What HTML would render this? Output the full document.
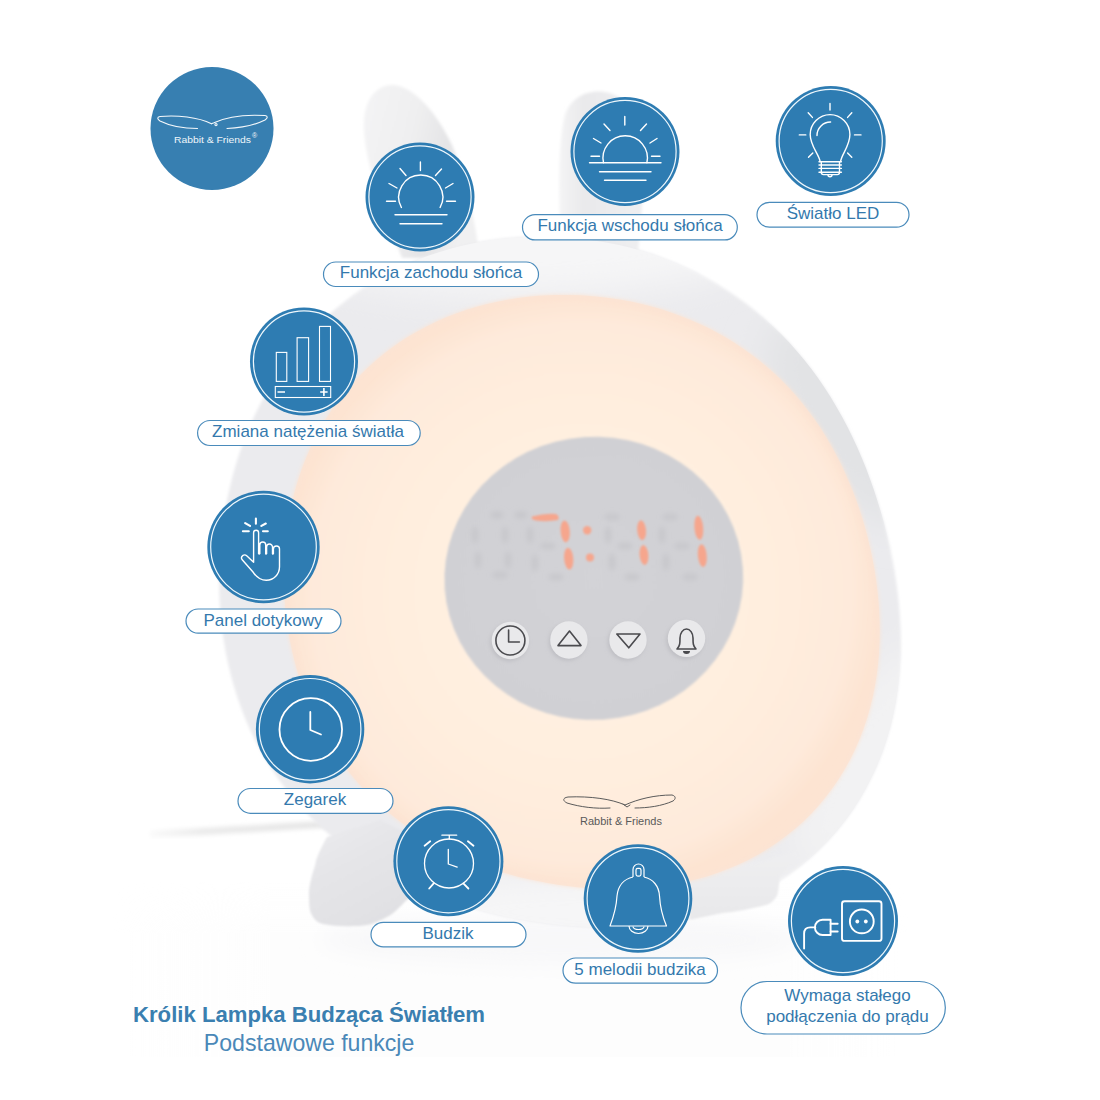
<!DOCTYPE html>
<html><head><meta charset="utf-8">
<style>
html,body{margin:0;padding:0;background:#fff;}
body{width:1100px;height:1100px;overflow:hidden;position:relative;font-family:"Liberation Sans",sans-serif;}
svg{position:absolute;left:0;top:0;}
</style></head>
<body>
<svg width="1100" height="1100" viewBox="0 0 1100 1100">
<defs>
  <filter id="ghostblur" filterUnits="userSpaceOnUse" x="400" y="450" width="380" height="200"><feGaussianBlur stdDeviation="2.5"/></filter>
  <filter id="blur15" x="-5%" y="-5%" width="110%" height="110%"><feGaussianBlur stdDeviation="1.6"/></filter>
  <filter id="blur20" x="-50%" y="-50%" width="200%" height="200%"><feGaussianBlur stdDeviation="18"/></filter>
  <filter id="blur2p" x="-5%" y="-5%" width="110%" height="110%"><feGaussianBlur stdDeviation="2.2"/></filter>
  <filter id="blur1" x="-10%" y="-10%" width="120%" height="120%"><feGaussianBlur stdDeviation="1"/></filter>
  <filter id="blur2" x="-20%" y="-50%" width="140%" height="200%"><feGaussianBlur stdDeviation="2"/></filter>
  <filter id="blur3" x="-10%" y="-10%" width="120%" height="120%"><feGaussianBlur stdDeviation="3"/></filter>
  <filter id="blur4" x="-20%" y="-20%" width="140%" height="140%"><feGaussianBlur stdDeviation="4"/></filter>
  <filter id="blur10" x="-30%" y="-30%" width="160%" height="160%"><feGaussianBlur stdDeviation="10"/></filter>
  <radialGradient id="peach" cx="0.5" cy="0.5" r="0.5">
    <stop offset="0" stop-color="#fff2e4"/>
    <stop offset="0.55" stop-color="#ffefdf"/>
    <stop offset="0.9" stop-color="#feeadb"/>
    <stop offset="1" stop-color="#fde4d2"/>
  </radialGradient>
  <linearGradient id="body" x1="0.1" y1="0.9" x2="0.9" y2="0.1">
    <stop offset="0" stop-color="#f1f1f3"/>
    <stop offset="0.45" stop-color="#ededef"/>
    <stop offset="1" stop-color="#e5e6e8"/>
  </linearGradient>
  <linearGradient id="earL" x1="0" y1="0" x2="1" y2="0.35">
    <stop offset="0" stop-color="#f4f4f5"/>
    <stop offset="0.45" stop-color="#efeff0"/>
    <stop offset="0.75" stop-color="#e4e4e6"/>
    <stop offset="1" stop-color="#f0f0f1"/>
  </linearGradient>
  <linearGradient id="earR" x1="0" y1="0" x2="1" y2="0">
    <stop offset="0" stop-color="#f4f4f5"/>
    <stop offset="0.3" stop-color="#e9e9eb"/>
    <stop offset="1" stop-color="#efeff1"/>
  </linearGradient>
  <linearGradient id="footL" x1="0" y1="0" x2="0.6" y2="1">
    <stop offset="0" stop-color="#ececef"/>
    <stop offset="0.45" stop-color="#e5e5e8"/>
    <stop offset="1" stop-color="#e0e0e3"/>
  </linearGradient>
  <linearGradient id="footR" x1="0" y1="0" x2="0" y2="1">
    <stop offset="0" stop-color="#efeff1"/>
    <stop offset="1" stop-color="#e8e8ea"/>
  </linearGradient>
  <linearGradient id="cableg" x1="0" y1="0" x2="1" y2="0">
    <stop offset="0" stop-color="#fafafa"/>
    <stop offset="0.3" stop-color="#ebebeb"/>
    <stop offset="1" stop-color="#e6e6e6"/>
  </linearGradient>
  <radialGradient id="gray" cx="0.5" cy="0.5" r="0.5">
    <stop offset="0" stop-color="#d3d3d7"/>
    <stop offset="1" stop-color="#d0d0d4"/>
  </radialGradient>
  <linearGradient id="floorg" x1="0" y1="0" x2="1" y2="0">
    <stop offset="0" stop-color="#fafafa" stop-opacity="0"/>
    <stop offset="0.2" stop-color="#fbfbfb"/>
    <stop offset="0.8" stop-color="#fbfbfb"/>
    <stop offset="1" stop-color="#fafafa" stop-opacity="0"/>
  </linearGradient>
  <linearGradient id="floorv" x1="0" y1="0" x2="0" y2="1">
    <stop offset="0" stop-color="#fafafa" stop-opacity="0"/>
    <stop offset="0.3" stop-color="#fafafa"/>
    <stop offset="1" stop-color="#fbfbfb"/>
  </linearGradient>
  <mask id="floormask" maskUnits="userSpaceOnUse" x="0" y="0" width="1100" height="1100">
    <rect x="110" y="880" width="800" height="177" fill="url(#floorm)"/>
  </mask>
  <linearGradient id="floorm" x1="0" y1="0" x2="1" y2="0">
    <stop offset="0" stop-color="#fff" stop-opacity="0"/>
    <stop offset="0.2" stop-color="#fff"/>
    <stop offset="0.85" stop-color="#fff"/>
    <stop offset="1" stop-color="#fff" stop-opacity="0"/>
  </linearGradient>
</defs>

<!-- ===== LAMP ===== -->
<g id="lamp">
  <!-- reflection -->
  <rect x="110" y="880" width="800" height="177" fill="url(#floorv)" mask="url(#floormask)" opacity="0.3"/>
  <ellipse cx="560" cy="940" rx="240" ry="25" fill="#f8f8f9" filter="url(#blur10)"/>
  <!-- cable -->
  <path d="M150 834 C 220 831, 280 827, 330 824" stroke="url(#cableg)" stroke-width="7" fill="none" filter="url(#blur2)"/>
  <!-- ears -->
  <path d="M402 258 C 386 215, 362 160, 364 120 C 366 95, 380 84, 394 85 C 415 87, 438 115, 452 145 C 466 178, 474 215, 480 258 Z" fill="url(#earL)" filter="url(#blur15)"/>
  <path d="M562 255 C 558 200, 558 140, 565 115 C 572 95, 590 90, 605 92 C 625 95, 638 115, 642 140 C 646 170, 642 210, 638 255 Z" fill="url(#earR)" filter="url(#blur15)"/>
  <!-- body -->
  <clipPath id="bodyclip"><path d="M219.1 580.0 C219.1 572.1 219.4 564.1 219.8 556.2 C220.3 548.3 221.0 540.4 221.9 532.5 C222.8 524.6 224.0 516.7 225.4 508.9 C226.8 501.0 228.4 493.2 230.3 485.4 C232.1 477.7 234.2 469.9 236.6 462.3 C238.9 454.6 241.6 447.0 244.4 439.5 C247.3 432.0 250.4 424.5 253.8 417.2 C257.2 409.9 260.9 402.6 264.8 395.5 C268.7 388.5 272.9 381.5 277.4 374.7 C281.9 367.9 286.6 361.2 291.6 354.8 C296.6 348.4 301.9 342.1 307.4 336.1 C312.9 330.0 318.7 324.2 324.7 318.6 C330.7 313.1 336.9 307.7 343.3 302.7 C349.8 297.6 356.4 292.8 363.2 288.3 C370.1 283.8 377.1 279.6 384.3 275.6 C391.4 271.7 398.8 268.0 406.2 264.7 C413.7 261.4 421.3 258.3 428.9 255.6 C436.6 252.8 444.4 250.4 452.2 248.2 C460.0 246.1 468.0 244.3 475.9 242.7 C483.8 241.2 491.9 239.9 499.9 238.9 C507.9 238.0 515.9 237.3 523.9 236.9 C532.0 236.5 540.0 236.4 548.0 236.5 C556.0 236.7 564.0 237.1 572.0 237.8 C579.9 238.5 587.8 239.4 595.7 240.7 C603.5 241.9 611.3 243.4 619.0 245.1 C626.8 246.9 634.4 248.9 642.0 251.1 C649.6 253.4 657.0 255.9 664.4 258.7 C671.8 261.5 679.0 264.5 686.1 267.8 C693.3 271.1 700.3 274.6 707.1 278.4 C714.0 282.1 720.7 286.1 727.2 290.4 C733.8 294.6 740.1 299.1 746.3 303.7 C752.5 308.4 758.6 313.3 764.4 318.4 C770.2 323.5 775.8 328.8 781.3 334.3 C786.7 339.7 791.9 345.4 796.9 351.2 C801.9 357.0 806.8 363.0 811.4 369.1 C816.0 375.2 820.4 381.4 824.6 387.8 C828.8 394.1 832.8 400.6 836.6 407.2 C840.4 413.7 844.0 420.4 847.5 427.1 C850.9 433.9 854.2 440.7 857.3 447.6 C860.4 454.6 863.3 461.5 866.1 468.6 C868.8 475.7 871.4 482.8 873.9 490.0 C876.3 497.2 878.6 504.5 880.8 511.8 C883.0 519.2 885.0 526.6 886.8 534.1 C888.7 541.6 890.4 549.1 891.9 556.8 C893.4 564.4 894.8 572.2 895.9 580.0 C897.1 587.8 898.1 595.7 898.9 603.7 C899.6 611.7 900.2 619.7 900.5 627.9 C900.8 636.0 900.9 644.2 900.7 652.4 C900.4 660.6 899.9 668.9 899.1 677.2 C898.3 685.5 897.2 693.9 895.7 702.2 C894.2 710.5 892.4 718.8 890.3 727.0 C888.1 735.3 885.5 743.5 882.6 751.5 C879.6 759.6 876.3 767.6 872.6 775.3 C868.9 783.1 864.8 790.8 860.3 798.2 C855.8 805.6 851.0 812.8 845.8 819.8 C840.5 826.7 834.9 833.4 829.0 839.8 C823.1 846.1 816.8 852.2 810.3 858.0 C803.7 863.7 796.9 869.1 789.8 874.1 C782.7 879.1 775.3 883.8 767.8 888.1 C760.3 892.4 752.5 896.3 744.7 899.9 C736.8 903.4 728.7 906.6 720.6 909.4 C712.5 912.2 704.3 914.6 696.0 916.7 C687.8 918.8 679.4 920.6 671.1 922.0 C662.8 923.5 654.4 924.6 646.1 925.4 C637.8 926.3 629.5 926.8 621.2 927.1 C612.9 927.4 604.7 927.5 596.5 927.3 C588.3 927.1 580.2 926.7 572.1 926.1 C564.0 925.5 556.0 924.6 548.0 923.6 C540.0 922.6 532.1 921.4 524.3 920.1 C516.4 918.7 508.6 917.1 500.9 915.4 C493.1 913.7 485.4 911.8 477.8 909.7 C470.2 907.6 462.6 905.4 455.1 902.9 C447.6 900.5 440.1 897.8 432.7 895.0 C425.4 892.1 418.1 889.1 410.9 885.8 C403.7 882.5 396.5 879.0 389.5 875.3 C382.5 871.5 375.6 867.6 368.9 863.4 C362.1 859.2 355.5 854.7 349.0 850.1 C342.5 845.4 336.2 840.5 330.1 835.3 C324.0 830.1 318.1 824.7 312.4 819.1 C306.7 813.5 301.2 807.6 296.0 801.5 C290.8 795.4 285.8 789.1 281.1 782.7 C276.3 776.2 271.9 769.5 267.7 762.7 C263.5 755.8 259.6 748.8 255.9 741.7 C252.3 734.6 248.9 727.3 245.8 719.9 C242.8 712.5 240.0 705.0 237.4 697.4 C234.9 689.8 232.7 682.1 230.7 674.4 C228.7 666.7 227.0 658.9 225.5 651.1 C224.1 643.3 222.9 635.4 221.9 627.5 C221.0 619.6 220.3 611.7 219.8 603.8 C219.4 595.9 219.1 587.9 219.1 580.0 Z"/></clipPath>
  <path id="bodyp" d="M219.1 580.0 C219.1 572.1 219.4 564.1 219.8 556.2 C220.3 548.3 221.0 540.4 221.9 532.5 C222.8 524.6 224.0 516.7 225.4 508.9 C226.8 501.0 228.4 493.2 230.3 485.4 C232.1 477.7 234.2 469.9 236.6 462.3 C238.9 454.6 241.6 447.0 244.4 439.5 C247.3 432.0 250.4 424.5 253.8 417.2 C257.2 409.9 260.9 402.6 264.8 395.5 C268.7 388.5 272.9 381.5 277.4 374.7 C281.9 367.9 286.6 361.2 291.6 354.8 C296.6 348.4 301.9 342.1 307.4 336.1 C312.9 330.0 318.7 324.2 324.7 318.6 C330.7 313.1 336.9 307.7 343.3 302.7 C349.8 297.6 356.4 292.8 363.2 288.3 C370.1 283.8 377.1 279.6 384.3 275.6 C391.4 271.7 398.8 268.0 406.2 264.7 C413.7 261.4 421.3 258.3 428.9 255.6 C436.6 252.8 444.4 250.4 452.2 248.2 C460.0 246.1 468.0 244.3 475.9 242.7 C483.8 241.2 491.9 239.9 499.9 238.9 C507.9 238.0 515.9 237.3 523.9 236.9 C532.0 236.5 540.0 236.4 548.0 236.5 C556.0 236.7 564.0 237.1 572.0 237.8 C579.9 238.5 587.8 239.4 595.7 240.7 C603.5 241.9 611.3 243.4 619.0 245.1 C626.8 246.9 634.4 248.9 642.0 251.1 C649.6 253.4 657.0 255.9 664.4 258.7 C671.8 261.5 679.0 264.5 686.1 267.8 C693.3 271.1 700.3 274.6 707.1 278.4 C714.0 282.1 720.7 286.1 727.2 290.4 C733.8 294.6 740.1 299.1 746.3 303.7 C752.5 308.4 758.6 313.3 764.4 318.4 C770.2 323.5 775.8 328.8 781.3 334.3 C786.7 339.7 791.9 345.4 796.9 351.2 C801.9 357.0 806.8 363.0 811.4 369.1 C816.0 375.2 820.4 381.4 824.6 387.8 C828.8 394.1 832.8 400.6 836.6 407.2 C840.4 413.7 844.0 420.4 847.5 427.1 C850.9 433.9 854.2 440.7 857.3 447.6 C860.4 454.6 863.3 461.5 866.1 468.6 C868.8 475.7 871.4 482.8 873.9 490.0 C876.3 497.2 878.6 504.5 880.8 511.8 C883.0 519.2 885.0 526.6 886.8 534.1 C888.7 541.6 890.4 549.1 891.9 556.8 C893.4 564.4 894.8 572.2 895.9 580.0 C897.1 587.8 898.1 595.7 898.9 603.7 C899.6 611.7 900.2 619.7 900.5 627.9 C900.8 636.0 900.9 644.2 900.7 652.4 C900.4 660.6 899.9 668.9 899.1 677.2 C898.3 685.5 897.2 693.9 895.7 702.2 C894.2 710.5 892.4 718.8 890.3 727.0 C888.1 735.3 885.5 743.5 882.6 751.5 C879.6 759.6 876.3 767.6 872.6 775.3 C868.9 783.1 864.8 790.8 860.3 798.2 C855.8 805.6 851.0 812.8 845.8 819.8 C840.5 826.7 834.9 833.4 829.0 839.8 C823.1 846.1 816.8 852.2 810.3 858.0 C803.7 863.7 796.9 869.1 789.8 874.1 C782.7 879.1 775.3 883.8 767.8 888.1 C760.3 892.4 752.5 896.3 744.7 899.9 C736.8 903.4 728.7 906.6 720.6 909.4 C712.5 912.2 704.3 914.6 696.0 916.7 C687.8 918.8 679.4 920.6 671.1 922.0 C662.8 923.5 654.4 924.6 646.1 925.4 C637.8 926.3 629.5 926.8 621.2 927.1 C612.9 927.4 604.7 927.5 596.5 927.3 C588.3 927.1 580.2 926.7 572.1 926.1 C564.0 925.5 556.0 924.6 548.0 923.6 C540.0 922.6 532.1 921.4 524.3 920.1 C516.4 918.7 508.6 917.1 500.9 915.4 C493.1 913.7 485.4 911.8 477.8 909.7 C470.2 907.6 462.6 905.4 455.1 902.9 C447.6 900.5 440.1 897.8 432.7 895.0 C425.4 892.1 418.1 889.1 410.9 885.8 C403.7 882.5 396.5 879.0 389.5 875.3 C382.5 871.5 375.6 867.6 368.9 863.4 C362.1 859.2 355.5 854.7 349.0 850.1 C342.5 845.4 336.2 840.5 330.1 835.3 C324.0 830.1 318.1 824.7 312.4 819.1 C306.7 813.5 301.2 807.6 296.0 801.5 C290.8 795.4 285.8 789.1 281.1 782.7 C276.3 776.2 271.9 769.5 267.7 762.7 C263.5 755.8 259.6 748.8 255.9 741.7 C252.3 734.6 248.9 727.3 245.8 719.9 C242.8 712.5 240.0 705.0 237.4 697.4 C234.9 689.8 232.7 682.1 230.7 674.4 C228.7 666.7 227.0 658.9 225.5 651.1 C224.1 643.3 222.9 635.4 221.9 627.5 C221.0 619.6 220.3 611.7 219.8 603.8 C219.4 595.9 219.1 587.9 219.1 580.0 Z" fill="#ebebee" filter="url(#blur15)"/>
  <g clip-path="url(#bodyclip)">
    <ellipse cx="520" cy="250" rx="230" ry="45" fill="#f6f6f7" filter="url(#blur20)"/>
    <ellipse cx="610" cy="912" rx="250" ry="40" fill="#f6f6f7" filter="url(#blur20)"/>
    <ellipse cx="850" cy="420" rx="60" ry="120" transform="rotate(-35 850 420)" fill="#e2e3e5" filter="url(#blur20)"/>
    <ellipse cx="870" cy="760" rx="50" ry="130" transform="rotate(30 870 760)" fill="#f2f2f3" filter="url(#blur20)"/>
  </g>
  <!-- feet -->
  <path d="M327 837 C 321 848, 316 858, 315.5 864 C 311 878, 308.5 888, 309 895.5 C 309 905, 309.5 911, 311.7 914.6 C 314 920, 318 923, 323 924 C 333 926, 345 926.5, 353.7 926 C 360 926, 366 925.5, 371.5 924 C 382 920, 390 916, 394.5 912 C 398 909, 402 905, 404.6 902 L 430 880 L 420 840 L 380 820 Z" fill="url(#footL)" filter="url(#blur1)"/>
  <path d="M805 850 L 779.5 876 C 779 885, 778.5 892, 777 895.5 C 774 901, 770 904, 766 905 C 750 909, 735 912, 722.7 913 L 690 919.5 L 690 880 Z" fill="url(#footR)" filter="url(#blur1)"/>
  <!-- peach glow -->
  <clipPath id="peachclip"><path d="M284.1 590.0 C283.8 583.1 283.7 576.2 283.9 569.3 C284.0 562.4 284.3 555.4 284.9 548.5 C285.5 541.6 286.2 534.7 287.2 527.8 C288.2 520.9 289.5 514.0 290.9 507.1 C292.4 500.3 294.1 493.4 296.1 486.7 C298.1 479.9 300.3 473.2 302.7 466.5 C305.2 459.9 307.9 453.4 310.9 446.9 C313.9 440.5 317.1 434.1 320.6 427.9 C324.1 421.7 327.9 415.6 331.9 409.7 C335.9 403.8 340.2 398.1 344.7 392.5 C349.2 387.0 353.9 381.6 358.9 376.5 C363.8 371.3 369.0 366.4 374.4 361.7 C379.8 357.0 385.4 352.5 391.1 348.3 C396.9 344.0 402.8 340.1 408.9 336.3 C415.0 332.6 421.2 329.2 427.6 326.0 C433.9 322.8 440.4 319.8 446.9 317.1 C453.5 314.4 460.1 312.0 466.8 309.8 C473.5 307.7 480.3 305.7 487.1 304.1 C493.9 302.4 500.8 300.9 507.6 299.7 C514.5 298.5 521.4 297.6 528.3 296.8 C535.2 296.1 542.1 295.6 549.0 295.3 C555.9 294.9 562.8 294.9 569.7 295.0 C576.6 295.1 583.4 295.4 590.3 296.0 C597.1 296.5 603.9 297.2 610.7 298.2 C617.4 299.1 624.2 300.3 630.8 301.6 C637.5 303.0 644.2 304.5 650.7 306.3 C657.3 308.1 663.8 310.0 670.3 312.2 C676.7 314.4 683.1 316.8 689.3 319.4 C695.6 322.0 701.8 324.8 707.9 327.8 C714.0 330.8 719.9 334.1 725.8 337.5 C731.6 340.9 737.4 344.6 742.9 348.4 C748.5 352.3 754.0 356.3 759.3 360.5 C764.6 364.8 769.7 369.2 774.7 373.8 C779.6 378.4 784.4 383.2 789.0 388.1 C793.7 393.1 798.1 398.2 802.4 403.4 C806.6 408.6 810.7 414.0 814.6 419.6 C818.5 425.1 822.2 430.7 825.7 436.5 C829.2 442.2 832.6 448.1 835.7 454.0 C838.9 460.0 841.9 466.0 844.7 472.2 C847.5 478.3 850.1 484.5 852.6 490.8 C855.1 497.1 857.4 503.4 859.5 509.8 C861.7 516.3 863.7 522.8 865.5 529.3 C867.3 535.9 868.9 542.5 870.4 549.2 C871.9 555.9 873.3 562.6 874.4 569.4 C875.6 576.2 876.5 583.1 877.3 590.0 C878.1 596.9 878.7 603.9 879.1 610.9 C879.5 617.9 879.7 625.0 879.7 632.1 C879.7 639.2 879.4 646.4 878.9 653.5 C878.4 660.7 877.7 667.9 876.7 675.1 C875.6 682.2 874.4 689.4 872.8 696.6 C871.2 703.7 869.3 710.8 867.2 717.8 C865.0 724.9 862.5 731.9 859.7 738.7 C856.9 745.6 853.8 752.4 850.4 758.9 C846.9 765.5 843.2 772.0 839.2 778.3 C835.1 784.6 830.8 790.7 826.1 796.5 C821.5 802.4 816.5 808.0 811.4 813.4 C806.2 818.8 800.7 823.9 795.0 828.8 C789.3 833.6 783.4 838.2 777.2 842.5 C771.1 846.7 764.8 850.7 758.3 854.4 C751.9 858.0 745.2 861.4 738.5 864.5 C731.7 867.5 724.8 870.2 717.9 872.7 C710.9 875.2 703.9 877.3 696.8 879.2 C689.8 881.0 682.6 882.6 675.5 883.9 C668.4 885.2 661.2 886.3 654.1 887.1 C646.9 887.9 639.8 888.5 632.7 888.8 C625.6 889.1 618.5 889.3 611.4 889.2 C604.4 889.1 597.4 888.8 590.4 888.3 C583.5 887.9 576.5 887.2 569.7 886.3 C562.8 885.5 555.9 884.5 549.2 883.3 C542.4 882.1 535.7 880.8 529.0 879.3 C522.3 877.7 515.7 876.1 509.1 874.2 C502.6 872.3 496.1 870.3 489.6 868.1 C483.2 865.9 476.8 863.5 470.5 861.0 C464.2 858.4 458.0 855.7 451.8 852.8 C445.7 849.8 439.7 846.7 433.7 843.4 C427.8 840.1 421.9 836.5 416.2 832.8 C410.5 829.1 404.9 825.2 399.4 821.1 C394.0 817.0 388.7 812.7 383.5 808.2 C378.4 803.7 373.4 799.0 368.6 794.1 C363.8 789.3 359.2 784.2 354.7 779.0 C350.3 773.8 346.1 768.4 342.0 762.9 C338.0 757.4 334.2 751.7 330.5 745.9 C326.9 740.1 323.5 734.1 320.3 728.1 C317.1 722.0 314.1 715.9 311.4 709.6 C308.6 703.3 306.1 697.0 303.7 690.6 C301.4 684.1 299.3 677.6 297.3 671.1 C295.4 664.5 293.7 657.9 292.2 651.2 C290.7 644.5 289.4 637.8 288.3 631.0 C287.2 624.2 286.3 617.4 285.6 610.6 C284.9 603.8 284.4 596.9 284.1 590.0 Z"/></clipPath>
  <path id="peachp" d="M284.1 590.0 C283.8 583.1 283.7 576.2 283.9 569.3 C284.0 562.4 284.3 555.4 284.9 548.5 C285.5 541.6 286.2 534.7 287.2 527.8 C288.2 520.9 289.5 514.0 290.9 507.1 C292.4 500.3 294.1 493.4 296.1 486.7 C298.1 479.9 300.3 473.2 302.7 466.5 C305.2 459.9 307.9 453.4 310.9 446.9 C313.9 440.5 317.1 434.1 320.6 427.9 C324.1 421.7 327.9 415.6 331.9 409.7 C335.9 403.8 340.2 398.1 344.7 392.5 C349.2 387.0 353.9 381.6 358.9 376.5 C363.8 371.3 369.0 366.4 374.4 361.7 C379.8 357.0 385.4 352.5 391.1 348.3 C396.9 344.0 402.8 340.1 408.9 336.3 C415.0 332.6 421.2 329.2 427.6 326.0 C433.9 322.8 440.4 319.8 446.9 317.1 C453.5 314.4 460.1 312.0 466.8 309.8 C473.5 307.7 480.3 305.7 487.1 304.1 C493.9 302.4 500.8 300.9 507.6 299.7 C514.5 298.5 521.4 297.6 528.3 296.8 C535.2 296.1 542.1 295.6 549.0 295.3 C555.9 294.9 562.8 294.9 569.7 295.0 C576.6 295.1 583.4 295.4 590.3 296.0 C597.1 296.5 603.9 297.2 610.7 298.2 C617.4 299.1 624.2 300.3 630.8 301.6 C637.5 303.0 644.2 304.5 650.7 306.3 C657.3 308.1 663.8 310.0 670.3 312.2 C676.7 314.4 683.1 316.8 689.3 319.4 C695.6 322.0 701.8 324.8 707.9 327.8 C714.0 330.8 719.9 334.1 725.8 337.5 C731.6 340.9 737.4 344.6 742.9 348.4 C748.5 352.3 754.0 356.3 759.3 360.5 C764.6 364.8 769.7 369.2 774.7 373.8 C779.6 378.4 784.4 383.2 789.0 388.1 C793.7 393.1 798.1 398.2 802.4 403.4 C806.6 408.6 810.7 414.0 814.6 419.6 C818.5 425.1 822.2 430.7 825.7 436.5 C829.2 442.2 832.6 448.1 835.7 454.0 C838.9 460.0 841.9 466.0 844.7 472.2 C847.5 478.3 850.1 484.5 852.6 490.8 C855.1 497.1 857.4 503.4 859.5 509.8 C861.7 516.3 863.7 522.8 865.5 529.3 C867.3 535.9 868.9 542.5 870.4 549.2 C871.9 555.9 873.3 562.6 874.4 569.4 C875.6 576.2 876.5 583.1 877.3 590.0 C878.1 596.9 878.7 603.9 879.1 610.9 C879.5 617.9 879.7 625.0 879.7 632.1 C879.7 639.2 879.4 646.4 878.9 653.5 C878.4 660.7 877.7 667.9 876.7 675.1 C875.6 682.2 874.4 689.4 872.8 696.6 C871.2 703.7 869.3 710.8 867.2 717.8 C865.0 724.9 862.5 731.9 859.7 738.7 C856.9 745.6 853.8 752.4 850.4 758.9 C846.9 765.5 843.2 772.0 839.2 778.3 C835.1 784.6 830.8 790.7 826.1 796.5 C821.5 802.4 816.5 808.0 811.4 813.4 C806.2 818.8 800.7 823.9 795.0 828.8 C789.3 833.6 783.4 838.2 777.2 842.5 C771.1 846.7 764.8 850.7 758.3 854.4 C751.9 858.0 745.2 861.4 738.5 864.5 C731.7 867.5 724.8 870.2 717.9 872.7 C710.9 875.2 703.9 877.3 696.8 879.2 C689.8 881.0 682.6 882.6 675.5 883.9 C668.4 885.2 661.2 886.3 654.1 887.1 C646.9 887.9 639.8 888.5 632.7 888.8 C625.6 889.1 618.5 889.3 611.4 889.2 C604.4 889.1 597.4 888.8 590.4 888.3 C583.5 887.9 576.5 887.2 569.7 886.3 C562.8 885.5 555.9 884.5 549.2 883.3 C542.4 882.1 535.7 880.8 529.0 879.3 C522.3 877.7 515.7 876.1 509.1 874.2 C502.6 872.3 496.1 870.3 489.6 868.1 C483.2 865.9 476.8 863.5 470.5 861.0 C464.2 858.4 458.0 855.7 451.8 852.8 C445.7 849.8 439.7 846.7 433.7 843.4 C427.8 840.1 421.9 836.5 416.2 832.8 C410.5 829.1 404.9 825.2 399.4 821.1 C394.0 817.0 388.7 812.7 383.5 808.2 C378.4 803.7 373.4 799.0 368.6 794.1 C363.8 789.3 359.2 784.2 354.7 779.0 C350.3 773.8 346.1 768.4 342.0 762.9 C338.0 757.4 334.2 751.7 330.5 745.9 C326.9 740.1 323.5 734.1 320.3 728.1 C317.1 722.0 314.1 715.9 311.4 709.6 C308.6 703.3 306.1 697.0 303.7 690.6 C301.4 684.1 299.3 677.6 297.3 671.1 C295.4 664.5 293.7 657.9 292.2 651.2 C290.7 644.5 289.4 637.8 288.3 631.0 C287.2 624.2 286.3 617.4 285.6 610.6 C284.9 603.8 284.4 596.9 284.1 590.0 Z" fill="url(#peach)" filter="url(#blur2p)"/>
  <g clip-path="url(#peachclip)"><path d="M284.1 590.0 C283.8 583.1 283.7 576.2 283.9 569.3 C284.0 562.4 284.3 555.4 284.9 548.5 C285.5 541.6 286.2 534.7 287.2 527.8 C288.2 520.9 289.5 514.0 290.9 507.1 C292.4 500.3 294.1 493.4 296.1 486.7 C298.1 479.9 300.3 473.2 302.7 466.5 C305.2 459.9 307.9 453.4 310.9 446.9 C313.9 440.5 317.1 434.1 320.6 427.9 C324.1 421.7 327.9 415.6 331.9 409.7 C335.9 403.8 340.2 398.1 344.7 392.5 C349.2 387.0 353.9 381.6 358.9 376.5 C363.8 371.3 369.0 366.4 374.4 361.7 C379.8 357.0 385.4 352.5 391.1 348.3 C396.9 344.0 402.8 340.1 408.9 336.3 C415.0 332.6 421.2 329.2 427.6 326.0 C433.9 322.8 440.4 319.8 446.9 317.1 C453.5 314.4 460.1 312.0 466.8 309.8 C473.5 307.7 480.3 305.7 487.1 304.1 C493.9 302.4 500.8 300.9 507.6 299.7 C514.5 298.5 521.4 297.6 528.3 296.8 C535.2 296.1 542.1 295.6 549.0 295.3 C555.9 294.9 562.8 294.9 569.7 295.0 C576.6 295.1 583.4 295.4 590.3 296.0 C597.1 296.5 603.9 297.2 610.7 298.2 C617.4 299.1 624.2 300.3 630.8 301.6 C637.5 303.0 644.2 304.5 650.7 306.3 C657.3 308.1 663.8 310.0 670.3 312.2 C676.7 314.4 683.1 316.8 689.3 319.4 C695.6 322.0 701.8 324.8 707.9 327.8 C714.0 330.8 719.9 334.1 725.8 337.5 C731.6 340.9 737.4 344.6 742.9 348.4 C748.5 352.3 754.0 356.3 759.3 360.5 C764.6 364.8 769.7 369.2 774.7 373.8 C779.6 378.4 784.4 383.2 789.0 388.1 C793.7 393.1 798.1 398.2 802.4 403.4 C806.6 408.6 810.7 414.0 814.6 419.6 C818.5 425.1 822.2 430.7 825.7 436.5 C829.2 442.2 832.6 448.1 835.7 454.0 C838.9 460.0 841.9 466.0 844.7 472.2 C847.5 478.3 850.1 484.5 852.6 490.8 C855.1 497.1 857.4 503.4 859.5 509.8 C861.7 516.3 863.7 522.8 865.5 529.3 C867.3 535.9 868.9 542.5 870.4 549.2 C871.9 555.9 873.3 562.6 874.4 569.4 C875.6 576.2 876.5 583.1 877.3 590.0 C878.1 596.9 878.7 603.9 879.1 610.9 C879.5 617.9 879.7 625.0 879.7 632.1 C879.7 639.2 879.4 646.4 878.9 653.5 C878.4 660.7 877.7 667.9 876.7 675.1 C875.6 682.2 874.4 689.4 872.8 696.6 C871.2 703.7 869.3 710.8 867.2 717.8 C865.0 724.9 862.5 731.9 859.7 738.7 C856.9 745.6 853.8 752.4 850.4 758.9 C846.9 765.5 843.2 772.0 839.2 778.3 C835.1 784.6 830.8 790.7 826.1 796.5 C821.5 802.4 816.5 808.0 811.4 813.4 C806.2 818.8 800.7 823.9 795.0 828.8 C789.3 833.6 783.4 838.2 777.2 842.5 C771.1 846.7 764.8 850.7 758.3 854.4 C751.9 858.0 745.2 861.4 738.5 864.5 C731.7 867.5 724.8 870.2 717.9 872.7 C710.9 875.2 703.9 877.3 696.8 879.2 C689.8 881.0 682.6 882.6 675.5 883.9 C668.4 885.2 661.2 886.3 654.1 887.1 C646.9 887.9 639.8 888.5 632.7 888.8 C625.6 889.1 618.5 889.3 611.4 889.2 C604.4 889.1 597.4 888.8 590.4 888.3 C583.5 887.9 576.5 887.2 569.7 886.3 C562.8 885.5 555.9 884.5 549.2 883.3 C542.4 882.1 535.7 880.8 529.0 879.3 C522.3 877.7 515.7 876.1 509.1 874.2 C502.6 872.3 496.1 870.3 489.6 868.1 C483.2 865.9 476.8 863.5 470.5 861.0 C464.2 858.4 458.0 855.7 451.8 852.8 C445.7 849.8 439.7 846.7 433.7 843.4 C427.8 840.1 421.9 836.5 416.2 832.8 C410.5 829.1 404.9 825.2 399.4 821.1 C394.0 817.0 388.7 812.7 383.5 808.2 C378.4 803.7 373.4 799.0 368.6 794.1 C363.8 789.3 359.2 784.2 354.7 779.0 C350.3 773.8 346.1 768.4 342.0 762.9 C338.0 757.4 334.2 751.7 330.5 745.9 C326.9 740.1 323.5 734.1 320.3 728.1 C317.1 722.0 314.1 715.9 311.4 709.6 C308.6 703.3 306.1 697.0 303.7 690.6 C301.4 684.1 299.3 677.6 297.3 671.1 C295.4 664.5 293.7 657.9 292.2 651.2 C290.7 644.5 289.4 637.8 288.3 631.0 C287.2 624.2 286.3 617.4 285.6 610.6 C284.9 603.8 284.4 596.9 284.1 590.0 Z" fill="none" stroke="#fde3d2" stroke-width="8" filter="url(#blur3)"/></g>
  <!-- gray center -->
  <ellipse cx="593.8" cy="578.4" rx="149.4" ry="141.6" transform="rotate(-3.9 593.8 578.4)" fill="url(#gray)" filter="url(#blur1)"/>
  <!-- ghost segments -->
  <g fill="#c8c8cc" filter="url(#ghostblur)">
    <ellipse cx="497" cy="515" rx="7" ry="4"/>
    <ellipse cx="521" cy="515" rx="7" ry="4"/>
    <ellipse cx="475" cy="535" rx="3.5" ry="9"/>
    <ellipse cx="505" cy="535" rx="3.5" ry="9"/>
    <ellipse cx="478" cy="560" rx="3.5" ry="9"/>
    <ellipse cx="508" cy="560" rx="3.5" ry="9"/>
    <ellipse cx="500" cy="575" rx="8" ry="3.5"/>
    <ellipse cx="530" cy="535" rx="3.5" ry="9"/>
    <ellipse cx="535" cy="563" rx="3.5" ry="9"/>
    <ellipse cx="548" cy="546" rx="8" ry="3.5"/>
    <ellipse cx="556" cy="577" rx="8" ry="3.5"/>
    <ellipse cx="612" cy="517" rx="8" ry="3.5"/>
    <ellipse cx="608" cy="535" rx="3.5" ry="9"/>
    <ellipse cx="612" cy="562" rx="3.5" ry="9"/>
    <ellipse cx="625" cy="546" rx="8" ry="3.5"/>
    <ellipse cx="632" cy="577" rx="8" ry="3.5"/>
    <ellipse cx="670" cy="517" rx="8" ry="3.5"/>
    <ellipse cx="662" cy="535" rx="3.5" ry="9"/>
    <ellipse cx="666" cy="562" rx="3.5" ry="9"/>
    <ellipse cx="682" cy="546" rx="8" ry="3.5"/>
    <ellipse cx="690" cy="577" rx="8" ry="3.5"/>
  </g>
  <!-- lit segments 7:11 -->
  <g fill="#f6a68d" filter="url(#blur1)">
    <path d="M532 516.5 Q 545 513, 556 514 Q 560 516, 558 520 Q 547 522, 536 520.5 Q 530 519, 532 516.5 Z"/>
    <ellipse cx="565.2" cy="531.4" rx="4.6" ry="11" transform="rotate(-5 565.2 531.4)"/>
    <ellipse cx="568.7" cy="558.6" rx="4.6" ry="11" transform="rotate(-5 568.7 558.6)"/>
    <circle cx="587.2" cy="530.2" r="4.2"/>
    <circle cx="590" cy="557.4" r="4"/>
    <ellipse cx="641.6" cy="530.2" rx="4.4" ry="10" transform="rotate(-5 641.6 530.2)"/>
    <ellipse cx="644" cy="555" rx="4.4" ry="10" transform="rotate(-5 644 555)"/>
    <ellipse cx="698.8" cy="527.8" rx="4.4" ry="12" transform="rotate(-5 698.8 527.8)"/>
    <ellipse cx="702.3" cy="555.6" rx="4.4" ry="11.5" transform="rotate(-5 702.3 555.6)"/>
  </g>
  <!-- buttons -->
  <g fill="#bdbdc2" filter="url(#blur2)">
    <circle cx="509" cy="642.5" r="18.5"/>
    <circle cx="567.5" cy="642" r="18.5"/>
    <circle cx="626.5" cy="642" r="18.5"/>
    <circle cx="685" cy="640.5" r="18.5"/>
  </g>
  <g fill="#e9e9eb">
    <circle cx="510.4" cy="640.5" r="18.7"/>
    <circle cx="568.9" cy="640" r="18.7"/>
    <circle cx="628" cy="640" r="18.7"/>
    <circle cx="686.5" cy="638.4" r="18.7"/>
  </g>
  <g fill="none" stroke="#4a4a4e" stroke-width="1.6" stroke-linejoin="round" stroke-linecap="round">
    <circle cx="510.4" cy="640.5" r="14.5"/>
    <path d="M508.6 630 V642 H519.4"/>
    <path d="M558 645.6 L581 645.6 L569.5 631 Z"/>
    <path d="M616.8 634 L640 634 L628.8 647.8 Z"/>
    <path d="M677 649 H696 C 693 646, 693 643, 693 638 C 693 633, 690 629, 686.5 629 C 683 629, 680 633, 680 638 C 680 643, 680 646, 677 649 Z"/>
  </g>
  <path d="M683 651 A 3.5 3 0 0 0 690 651 Z" fill="#48484c"/>
  <!-- lamp logo -->
  <g fill="none" stroke="#5b5b5b" stroke-width="1" stroke-linecap="round">
    <path d="M625 805 C 612 799, 590 796, 568 797 C 562 798, 563 801, 567 803 C 580 807, 596 809, 610 808"/>
    <path d="M625 805 C 638 799, 655 795, 672 795 C 676 796, 676 799, 673 801 C 662 806, 648 808, 635 808"/>
    <path d="M623 804 L 627 807 L 630 805"/>
  </g>
  <text x="580" y="825" fill="#5a5a5a" font-family="Liberation Sans, sans-serif" font-size="10" textLength="82" lengthAdjust="spacingAndGlyphs">Rabbit &amp; Friends</text>
</g>

<!-- ===== ICON CIRCLES ===== -->
<circle cx="212" cy="128.5" r="61.5" fill="#377fb1"/>
<g fill="#2e7cb2">
  <circle cx="420" cy="197" r="54.5"/>
  <circle cx="625" cy="151.5" r="54.5"/>
  <circle cx="830.7" cy="141" r="55"/>
  <circle cx="304" cy="361.5" r="54"/>
  <circle cx="263.5" cy="547" r="56.2"/>
  <circle cx="310.1" cy="729.3" r="54.2"/>
  <circle cx="448.4" cy="861.2" r="55"/>
  <circle cx="638" cy="898.5" r="54.3"/>
  <circle cx="843" cy="921" r="55"/>
</g>
<g fill="none" stroke="#eef7fc" stroke-width="1.2">
  <circle cx="420" cy="197" r="51.1"/>
  <circle cx="625" cy="151.5" r="51.1"/>
  <circle cx="830.7" cy="141" r="51.6"/>
  <circle cx="304" cy="361.5" r="50.6"/>
  <circle cx="263.5" cy="547" r="52.8"/>
  <circle cx="310.1" cy="729.3" r="50.8"/>
  <circle cx="448.4" cy="861.2" r="51.6"/>
  <circle cx="638" cy="898.5" r="50.9"/>
  <circle cx="843" cy="921" r="51.6"/>
</g>

<!-- ===== ICONS ===== -->
<!-- logo -->
<g fill="none" stroke="#f4f8fb" stroke-width="1.1" stroke-linecap="round">
  <path d="M211.5 123.8 C 198 117, 177 115, 160 116.5 C 157 117, 157 119, 160 121 C 170 126, 185 128.5, 197.5 128.5"/>
  <path d="M211.5 123.8 L 214 122.8 C 228 116, 248 114.5, 265 115.5 C 268 116, 268 118, 265 120 C 255 125, 240 128, 227 128.5"/>
  <circle cx="216" cy="124.6" r="1.1"/>
</g>
<text x="174" y="142.5" fill="#eef5fa" font-family="Liberation Sans, sans-serif" font-size="9.6" textLength="77" lengthAdjust="spacingAndGlyphs">Rabbit &amp; Friends</text>
<text x="252" y="138" fill="#f4f8fb" font-family="Liberation Sans, sans-serif" font-size="7">®</text>

<g fill="none" stroke="#fff" stroke-width="1.4" stroke-linecap="round" stroke-linejoin="round">
<!-- sunset (zachodu) -->
  <path d="M401.4 207.5 A 22 22 0 1 1 440.1 207.5"/>
  <path d="M420.4 162 V170.5 M400 168.5 L406 175.5 M441.5 169 L435.5 175.5 M389 183.5 L397 188 M453 183.5 L445.5 188 M386.5 201.3 H395.5 M446.5 201.3 H455.5 M395 214.8 H447 M400 223.8 H442"/>
<!-- sunrise (wschodu) -->
  <path d="M603.5 162.7 A 22.2 22.2 0 1 1 646.9 162.7"/>
  <path d="M624.8 116.5 V125 M604 124 L610 130.5 M646.5 124 L640.5 130.5 M593.5 138.5 L601 143 M657 138.5 L650 143 M591 156.3 H599.5 M651.5 156.3 H660 M589.5 162.7 H661 M599.5 171.7 H651 M604.5 180.3 H646"/>
<!-- LED bulb -->
  <path d="M820.1 161.5 C 819 154, 810.2 146, 810.2 134.5 A 19.85 19.85 0 0 1 849.9 134.5 C 849.9 146, 841.6 154, 840.6 161.5"/>
  <path d="M819 161.8 H841.4 M819 165 H841.4 M819 168.4 H841.4 M819 172.2 H841.4 M821.3 161.8 V172.5 Q 821.3 174.6, 823.5 174.6 H837.3 Q 839.5 174.6, 839.5 172.5 V161.8"/>
  <path d="M828 174.8 A 2 2 0 1 0 832 174.8"/>
  <path d="M817 135.5 A 13.5 13.5 0 0 1 830.6 122"/>
  <path d="M830 103.5 V110 M808.2 112.8 L812.4 117.4 M851.8 112.8 L847.6 117.4 M799.3 134.9 H805.8 M854.5 134.9 H861 M808.5 157.2 L812.8 152.9 M851.8 157.2 L847.6 152.9"/>
</g>
<!-- intensity bars -->
<g fill="none" stroke="#fff" stroke-width="1.1">
  <rect x="276.3" y="352.4" width="10.5" height="29"/>
  <rect x="297.1" y="337.7" width="11.5" height="43.7"/>
  <rect x="319.5" y="326.4" width="11" height="55"/>
  <rect x="275.3" y="386.5" width="55.4" height="11"/>
  <path d="M277.5 392 H285 M320.2 392 H327.6 M323.9 388 V396" stroke-width="1.6"/>
</g>
<!-- touch -->
<g fill="none" stroke="#fff" stroke-width="1.4" stroke-linecap="round" stroke-linejoin="round">
  <path d="M253.6 562.2 V532.8 A 2.5 2.5 0 0 1 258.6 532.8 V553.7 Q 259.2 554.6 259.8 553.7 V545 A 2.95 2.95 0 0 1 265.7 545 V553.7 Q 266.1 554.6 266.6 553.7 V547 A 2.95 2.95 0 0 1 272.5 547 V553.7 Q 272.9 554.6 273.4 553.7 V549 A 3.05 3.05 0 0 1 279.5 549 V566.8 C 279.5 574, 274 580.3, 266.3 580.3 C 260 580.3, 256 576.5, 253 572 L 242 559.5 Q 240.5 557, 243 555.3 Q 245 554.2, 247 556 L 253.6 562.2"/>
</g>
<g fill="none" stroke="#fff" stroke-width="2.1" stroke-linecap="round">
  <path d="M255.9 518.6 V523.8 M245.2 523.1 L250 525.9 M261.4 525.9 L265.8 523.5 M242.9 531.3 H248.8 M263 531.3 H267.8"/>
</g>
<!-- clock -->
<g fill="none" stroke="#fff" stroke-width="1.8" stroke-linecap="round" stroke-linejoin="round">
  <circle cx="310.75" cy="729.5" r="31.3"/>
  <path d="M310.3 712 V730 L321 734.5"/>
</g>
<!-- alarm -->
<g fill="none" stroke="#fff" stroke-width="1.3" stroke-linecap="round" stroke-linejoin="round">
  <circle cx="449" cy="863.5" r="24.5"/>
  <path d="M441.9 835.2 H456.7 M449.3 835.5 V839 M448.3 849.3 V864 L457.2 867.1"/>
  <path d="M424.6 845.7 L430.2 841.2 M467.9 841.2 L473.5 845.7 M429.2 888.5 L433.7 883.4 M463.3 883.4 L468.4 888.5" stroke-width="1.8"/>
</g>
<!-- bell -->
<g fill="none" stroke="#fff" stroke-width="1.2" stroke-linejoin="round">
  <path d="M633 877 V869.5 A 5.5 5.5 0 0 1 644 869.5 V877"/>
  <rect x="636" y="868.3" width="5" height="7.8" rx="1.8"/>
  <path d="M633 877 C 624 879, 618 886, 617 896 C 616.5 905, 615 913, 610 926 H666.5 C 661 913, 660 905, 659.5 896 C 659 886, 653 879, 644 877"/>
  <path d="M629 926 A 9.5 7.5 0 0 0 648 926"/>
  <path d="M633 926.5 A 5.5 3 0 0 0 644 926.5"/>
</g>
<!-- plug -->
<g fill="none" stroke="#fff" stroke-width="1.9" stroke-linecap="round" stroke-linejoin="round">
  <rect x="842" y="901.2" width="39.5" height="39.7" rx="2.5"/>
  <circle cx="861.8" cy="921.4" r="11.9"/>
  <path d="M830.6 919.8 V935 H822.5 A 7.6 7.6 0 0 1 822.5 919.8 Z"/>
  <path d="M830.6 923.7 H837.7 M830.6 931.5 H837.7"/>
  <path d="M815.3 927.4 H810.3 Q 804.1 927.4, 804.1 933.6 V948.6"/>
</g>
<g fill="#fff">
  <circle cx="857.3" cy="921.5" r="1.9"/>
  <circle cx="865.8" cy="921.5" r="1.9"/>
</g>

<!-- ===== LABELS ===== -->
<g fill="#fff" stroke="#4a8bbb" stroke-width="1.2">
  <rect x="323.5" y="262" width="215" height="24.5" rx="12.25"/>
  <rect x="522.5" y="214.7" width="214.8" height="25.2" rx="12.6"/>
  <rect x="757" y="202.3" width="152" height="24.9" rx="12.45"/>
  <rect x="197.6" y="420.5" width="222.6" height="25" rx="12.5"/>
  <rect x="186" y="609" width="155" height="24.2" rx="12.1"/>
  <rect x="238" y="788.5" width="155" height="24.8" rx="12.4"/>
  <rect x="371" y="922.3" width="155" height="24.6" rx="12.3"/>
  <rect x="563" y="958" width="154.5" height="25.2" rx="12.6"/>
  <rect x="741" y="981.5" width="204.3" height="52.5" rx="26"/>
</g>
<g fill="#3479ad" font-family="Liberation Sans, sans-serif" font-size="17" text-anchor="middle">
  <text x="431" y="278.3">Funkcja zachodu słońca</text>
  <text x="630" y="231.3">Funkcja wschodu słońca</text>
  <text x="833" y="218.6">Światło LED</text>
  <text x="308" y="437.4">Zmiana natężenia światła</text>
  <text x="263" y="625.6">Panel dotykowy</text>
  <text x="315" y="805.4">Zegarek</text>
  <text x="448" y="939.4">Budzik</text>
  <text x="640" y="975.4">5 melodii budzika</text>
  <text x="847.5" y="1000.5">Wymaga stałego</text>
  <text x="847.5" y="1022">podłączenia do prądu</text>
</g>

<!-- ===== TITLE ===== -->
<text x="309" y="1022" fill="#3a7fb0" font-family="Liberation Sans, sans-serif" font-size="22.6" font-weight="bold" text-anchor="middle" textLength="352" lengthAdjust="spacingAndGlyphs">Królik Lampka Budząca Światłem</text>
<text x="309.1" y="1051.2" fill="#4a88b8" font-family="Liberation Sans, sans-serif" font-size="24" text-anchor="middle" textLength="210.5" lengthAdjust="spacingAndGlyphs">Podstawowe funkcje</text>
</svg>
</body></html>
